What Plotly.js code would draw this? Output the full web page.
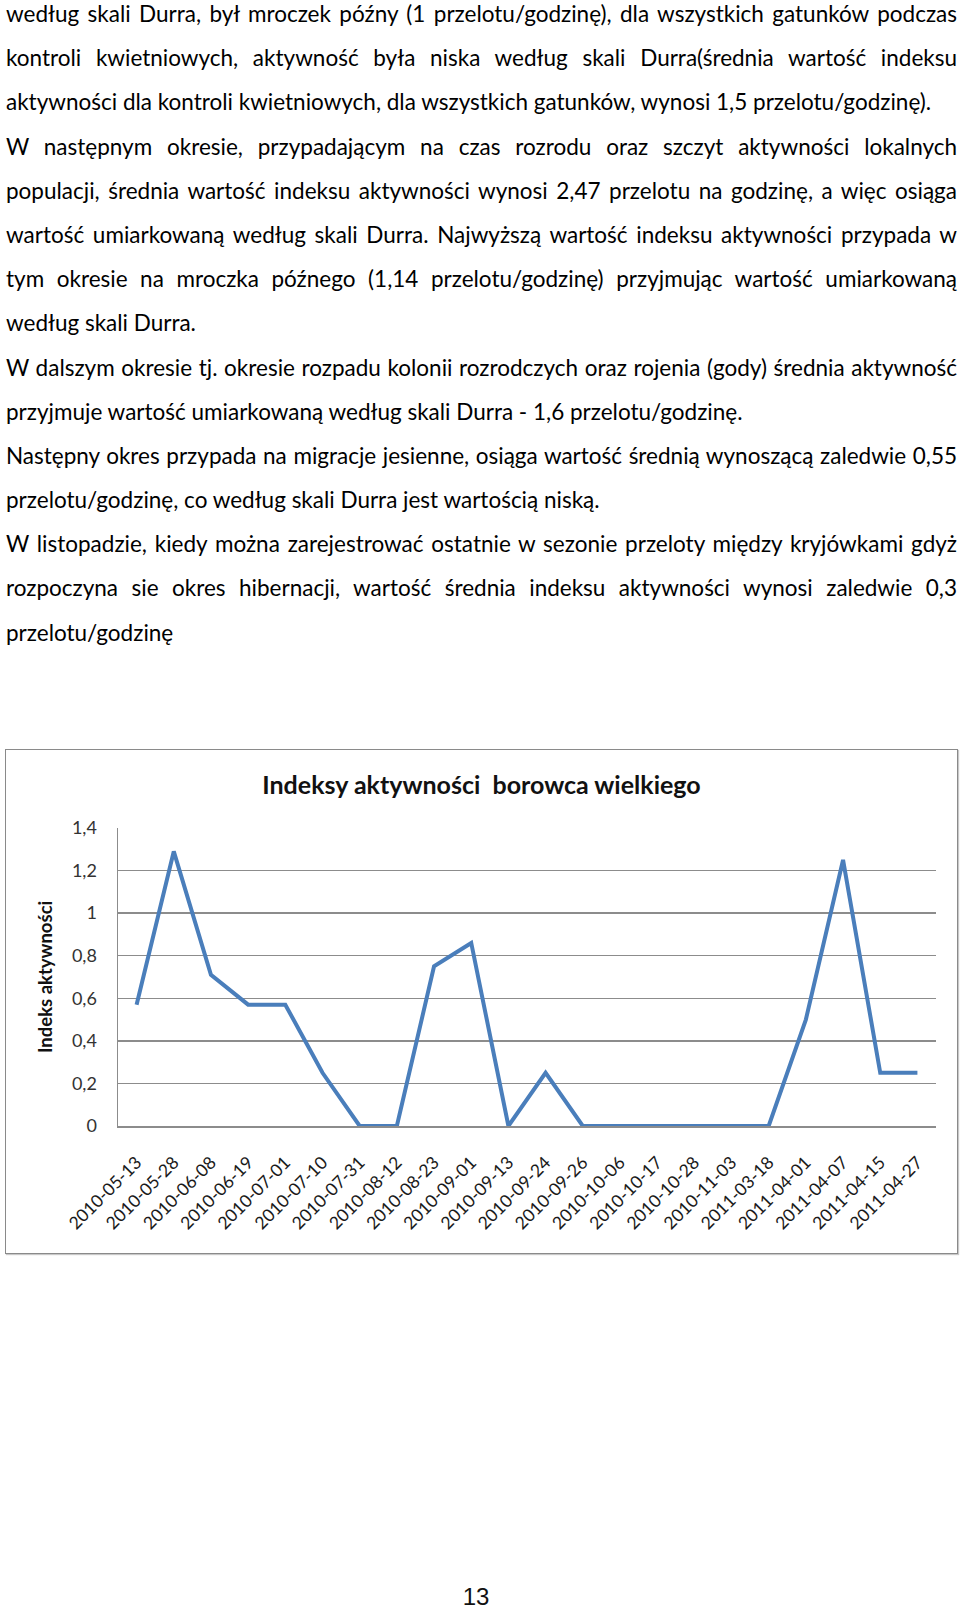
<!DOCTYPE html>
<html lang="pl">
<head>
<meta charset="utf-8">
<script src="https://cdn.plot.ly/plotly-3.0.1.min.js"></script>
<style>
  html, body { margin: 0; padding: 0; background: #fff; }
  body { width: 960px; height: 1609px; position: relative; overflow: hidden; }
  #text {
    position: absolute; left: 6px; top: -8px; width: 951px;
    font-family: Lato, "Open Sans", sans-serif; font-size: 22.75px;
    line-height: 44.2px; color: #000;
  }
  #text .ln { white-space: nowrap; height: 44.2px; }
  #text .j { text-align: justify; text-align-last: justify; }
  #chart {
    position: absolute; left: 5px; top: 749px; width: 951px; height: 503px;
    border: 1.5px solid #8a8a8a; box-shadow: 1px 1px 1px #c8c8c8;
  }
  #page {
    position: absolute; left: 0; width: 952px; top: 1583px; text-align: center;
    font-family: "Liberation Sans", Arial, sans-serif; font-size: 24px; color: #111;
  }
</style>
</head>
<body>
<div id="text"></div>
<div id="chart"></div>
<div id="page">13</div>
<script>
// page text, one entry per printed line; j = justified line
const TEXT_LINES = [
  ["j", "według skali Durra, był mroczek późny (1 przelotu/godzinę), dla wszystkich gatunków podczas"],
  ["j", "kontroli kwietniowych, aktywność była niska według skali Durra(średnia wartość indeksu"],
  ["l", "aktywności dla kontroli kwietniowych, dla wszystkich gatunków, wynosi 1,5 przelotu/godzinę)."],
  ["j", "W następnym okresie, przypadającym na czas rozrodu oraz szczyt aktywności lokalnych"],
  ["j", "populacji, średnia wartość indeksu aktywności wynosi 2,47 przelotu na godzinę, a więc osiąga"],
  ["j", "wartość umiarkowaną według skali Durra. Najwyższą wartość indeksu aktywności przypada w"],
  ["j", "tym okresie na mroczka późnego (1,14 przelotu/godzinę) przyjmując wartość umiarkowaną"],
  ["l", "według skali Durra."],
  ["j", "W dalszym okresie tj. okresie rozpadu kolonii rozrodczych oraz rojenia (gody) średnia aktywność"],
  ["l", "przyjmuje wartość umiarkowaną według skali Durra - 1,6 przelotu/godzinę."],
  ["j", "Następny okres przypada na migracje jesienne, osiąga wartość średnią wynoszącą zaledwie 0,55"],
  ["l", "przelotu/godzinę, co według skali Durra jest wartością niską."],
  ["j", "W listopadzie, kiedy można zarejestrować ostatnie w sezonie przeloty między kryjówkami gdyż"],
  ["j", "rozpoczyna sie okres hibernacji, wartość średnia indeksu aktywności wynosi zaledwie 0,3"],
  ["l", "przelotu/godzinę"],
];

// chart data
const DATES = [
  "2010-05-13", "2010-05-28", "2010-06-08", "2010-06-19", "2010-07-01", "2010-07-10",
  "2010-07-31", "2010-08-12", "2010-08-23", "2010-09-01", "2010-09-13", "2010-09-24",
  "2010-09-26", "2010-10-06", "2010-10-17", "2010-10-28", "2010-11-03", "2011-03-18",
  "2011-04-01", "2011-04-07", "2011-04-15", "2011-04-27",
];
const ACTIVITY = [
  0.57, 1.29, 0.71, 0.57, 0.57, 0.25,
  0, 0, 0.75, 0.86, 0, 0.25,
  0, 0, 0, 0, 0, 0,
  0.5, 1.25, 0.25, 0.25,
];
const TITLE = "Indeksy aktywności  borowca wielkiego";
const Y_TITLE = "Indeks aktywności";

// build text lines, shrinking the font until the longest line fits
const $text = document.getElementById("text");
const ctx = document.createElement("canvas").getContext("2d");
let size = 22.75;
const family = getComputedStyle($text).fontFamily;
const maxW = 948;
while (size > 14) {
  ctx.font = `${size}px ${family}`;
  const widest = Math.max(...TEXT_LINES.map(([, t]) => ctx.measureText(t).width));
  if (widest <= maxW) break;
  size -= 0.25;
}
$text.style.fontSize = size + "px";
$text.innerHTML = TEXT_LINES
  .map(([k, t]) => `<div class="ln ${k === "j" ? "j" : ""}">${t}</div>`)
  .join("");

const FONT = "Lato, 'Open Sans', sans-serif";
const GRID = "#8c8c8c";

const data = [{
  type: "scatter",
  mode: "lines",
  x: DATES,
  y: ACTIVITY,
  line: { color: "#4a7ebb", width: 4 },
  hoverinfo: "x+y",
}];

const layout = {
  width: 951, height: 503,
  paper_bgcolor: "#ffffff",
  plot_bgcolor: "#ffffff",
  separators: ", ",
  showlegend: false,
  font: { family: FONT, color: "#222", size: 16 },
  margin: { l: 112, r: 21, t: 78, b: 127, pad: 0 },
  title: {
    text: TITLE,
    font: { family: FONT, size: 25, color: "#111", weight: "bold" },
    x: 0.5, xanchor: "center",
    y: 0.93, yanchor: "middle", yref: "container",
  },
  xaxis: {
    type: "category",
    range: [-0.5, DATES.length - 0.5],
    showgrid: false, zeroline: false,
    showline: true, linecolor: GRID, linewidth: 1.5,
    ticks: "", tickangle: -45,
    ticklabelstandoff: 18,
    tickfont: { family: FONT, size: 17.5, color: "#1a1a1a" },
    fixedrange: true,
  },
  yaxis: {
    range: [0, 1.4], dtick: 0.2, tick0: 0,
    showgrid: true, gridcolor: GRID, gridwidth: 1.4,
    zeroline: false,
    showline: true, linecolor: GRID, linewidth: 1.5,
    ticks: "", ticklabelstandoff: 16,
    tickfont: { family: FONT, size: 18, color: "#333" },
    fixedrange: true,
  },
  annotations: [{
    text: `<b>${Y_TITLE}</b>`,
    xref: "paper", yref: "paper",
    x: -73 / 818, y: 0.5,
    xanchor: "center", yanchor: "middle",
    textangle: -90, showarrow: false,
    font: { family: FONT, size: 18.5, color: "#111" },
  }],
};

Plotly.newPlot("chart", data, layout, { displayModeBar: false, staticPlot: true });
</script>
</body>
</html>
